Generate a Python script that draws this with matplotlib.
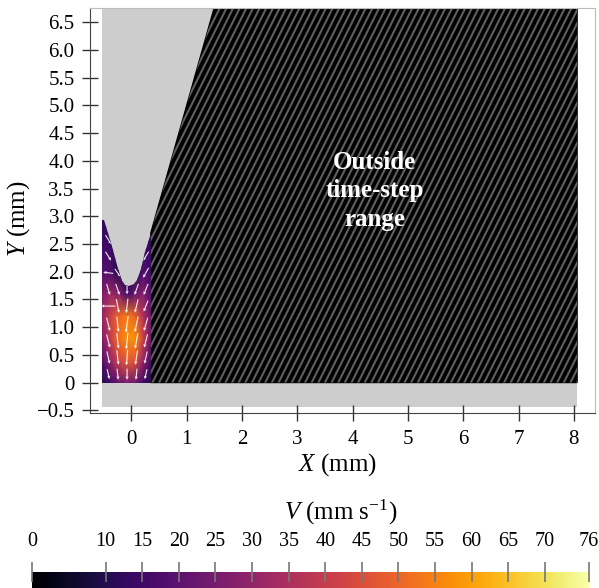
import numpy as np
import matplotlib.pyplot as plt
from matplotlib.patches import Polygon, Rectangle
from matplotlib.collections import LineCollection

plt.rcParams.update({
    "font.family": "Liberation Serif",
    "mathtext.fontset": "custom",
    "mathtext.rm": "Liberation Serif",
    "mathtext.it": "Liberation Serif:italic",
    "font.size": 14,
})

# axes ticks
x_ticks = [0, 1, 2, 3, 4, 5, 6, 7, 8]
y_ticks = [-0.5, 0, 0.5, 1.0, 1.5, 2.0, 2.5, 3.0, 3.5, 4.0, 4.5, 5.0, 5.5, 6.0, 6.5]
y_ticklabels = ["\u22120.5", "0", "0.5", "1.0", "1.5", "2.0", "2.5", "3.0",
                "3.5", "4.0", "4.5", "5.0", "5.5", "6.0", "6.5"]
cbar_ticks = [0, 10, 15, 20, 25, 30, 35, 40, 45, 50, 55, 60, 65, 70, 76]

# domain (mm)
domain_x = [-0.54, 8.06]
domain_y = [-0.45, 6.76]

# region outside the time-step range
outside_x = [0.35, 8.06, 8.06, 1.49, 0.35]
outside_y = [0.0, 0.0, 6.74, 6.74, 2.70]

# melt pool outline
pool_x = [-0.53, 0.35, 0.35, 0.25, 0.17, 0.10, 0.04, -0.04, -0.12, -0.18, -0.25, -0.34, -0.43, -0.50, -0.53]
pool_y = [0.0, 0.0, 2.70, 2.35, 2.05, 1.85, 1.77, 1.74, 1.76, 1.84, 2.05, 2.40, 2.70, 2.94, 2.94]

# speed field (mm/s) on a coarse grid
grid_x = [-0.53, -0.38, -0.23, -0.08, 0.06, 0.21, 0.35]
grid_y = [0.0, 0.4, 0.8, 1.2, 1.6, 2.0, 2.4, 2.8, 3.0]
speed = [
    [10, 15, 22, 26, 24, 15, 9],
    [18, 30, 42, 48, 46, 30, 16],
    [26, 40, 52, 57, 58, 42, 22],
    [30, 42, 50, 54, 50, 36, 22],
    [26, 32, 28, 16, 22, 28, 18],
    [18, 18, 10, 6, 10, 18, 15],
    [16, 15, 8, 5, 8, 15, 13],
    [13, 11, 5, 5, 5, 11, 10],
    [12, 10, 5, 5, 5, 10, 10],
]

# velocity arrows
arrow_x = [-0.42, -0.25, -0.08, 0.09, 0.26]
arrow_y = [0.15, 0.45, 0.75, 1.05, 1.38, 1.68, 1.98, 2.28, 2.58]
arrow_u = [
    [0.04, 0.02, 0.00, -0.02, -0.04],
    [0.05, 0.03, -0.02, -0.04, -0.05],
    [0.06, 0.03, -0.03, -0.05, -0.06],
    [0.06, 0.03, -0.04, -0.06, -0.07],
    [-0.26, 0.05, -0.03, -0.06, -0.08],
    [0.06, 0.07, 0.00, -0.07, -0.08],
    [-0.18, 0.10, 0.00, -0.10, -0.10],
    [0.10, 0.12, 0.00, -0.12, -0.10],
    [0.10, 0.12, 0.00, -0.12, -0.10],
]
arrow_v = [
    [-0.18, -0.20, -0.20, -0.20, -0.18],
    [-0.22, -0.26, -0.28, -0.26, -0.22],
    [-0.24, -0.28, -0.30, -0.28, -0.24],
    [-0.24, -0.28, -0.30, -0.28, -0.24],
    [0.00, -0.25, -0.26, -0.24, -0.20],
    [-0.20, -0.20, -0.18, -0.20, -0.20],
    [0.02, -0.14, 0.00, -0.14, -0.18],
    [-0.16, -0.10, 0.00, -0.10, -0.16],
    [-0.16, -0.10, 0.00, -0.10, -0.16],
]

fig = plt.figure(figsize=(5.99, 5.88), dpi=100)
ax = fig.add_axes([0.150, 0.2976, 0.843, 0.689])
ax.set_xlim(-0.753, 8.38)
ax.set_ylim(-0.55, 6.76)

# grey domain background (substrate + gas)
ax.add_patch(Rectangle((domain_x[0], domain_y[0]), domain_x[1] - domain_x[0],
                       domain_y[1] - domain_y[0], facecolor="#cdcdcd",
                       edgecolor="none", zorder=0))

# hatched "outside" region
out_patch = Polygon(np.column_stack([outside_x, outside_y]), closed=True,
                    facecolor="black", edgecolor="black", lw=1, zorder=1)
ax.add_patch(out_patch)
offsets = np.arange(outside_x[0] - 3.5, outside_x[1] + 0.2, 0.12)
segs = [[(x0, -0.1), (x0 + 3.5, 6.9)] for x0 in offsets]
stripes = LineCollection(segs, colors="#5f5f5f", linewidths=1.5, zorder=2)
ax.add_collection(stripes)
stripes.set_clip_path(out_patch)

# melt pool speed field
pool_patch = Polygon(np.column_stack([pool_x, pool_y]), closed=True,
                     facecolor="none", edgecolor="none", zorder=1)
ax.add_patch(pool_patch)
gx, gy = np.meshgrid(grid_x, grid_y)
mesh = ax.pcolormesh(gx, gy, np.array(speed), shading="gouraud", cmap="inferno",
                     vmin=0, vmax=76, zorder=1)
mesh.set_clip_path(pool_patch)

ax_, ay_ = np.meshgrid(arrow_x, arrow_y)
q = ax.quiver(ax_, ay_, np.array(arrow_u), np.array(arrow_v), color="white",
              angles="xy", scale_units="xy", scale=1, pivot="middle",
              width=0.0022, headwidth=3, headlength=3, headaxislength=2.6,
              alpha=0.9, zorder=3)
q.set_clip_path(pool_patch)

ax.text(4.40, 3.46, "Outside\ntime-step\nrange", color="white", fontsize=18,
        fontweight="bold", ha="center", va="center", linespacing=1.3, zorder=5)

# axes styling
ax.set_xticks(x_ticks)
ax.set_yticks(y_ticks)
ax.set_yticklabels(y_ticklabels)
ax.tick_params(direction="inout", length=12, width=1, color="#333333",
               labelsize=15, pad=5)
ax.tick_params(axis="x", pad=6)
for side in ["left", "bottom"]:
    ax.spines[side].set_color("#444444")
for side in ["top", "right"]:
    ax.spines[side].set_color("#bbbbbb")
ax.set_xlabel(r"$X$ (mm)", fontsize=18)
ax.set_ylabel(r"$Y$ (mm)", fontsize=18)
ax.xaxis.set_label_coords(0.49, -0.095)
ax.yaxis.set_label_coords(-0.115, 0.48)

# colour bar
cax = fig.add_axes([0.054, 0.0, 0.929, 0.0277])
cbar = fig.colorbar(mesh, cax=cax, orientation="horizontal", ticks=cbar_ticks)
cbar.outline.set_visible(False)
cax.xaxis.set_ticks_position("top")
cax.xaxis.set_label_position("top")
cax.tick_params(direction="inout", length=14, width=1.2, color="#777777",
                labelsize=14.5, pad=8)
fig.text(0.568, 0.129, r"$V$ (mm s$^{-1}$)", fontsize=18, ha="center", va="center")

fig.savefig("out.png", dpi=100)
